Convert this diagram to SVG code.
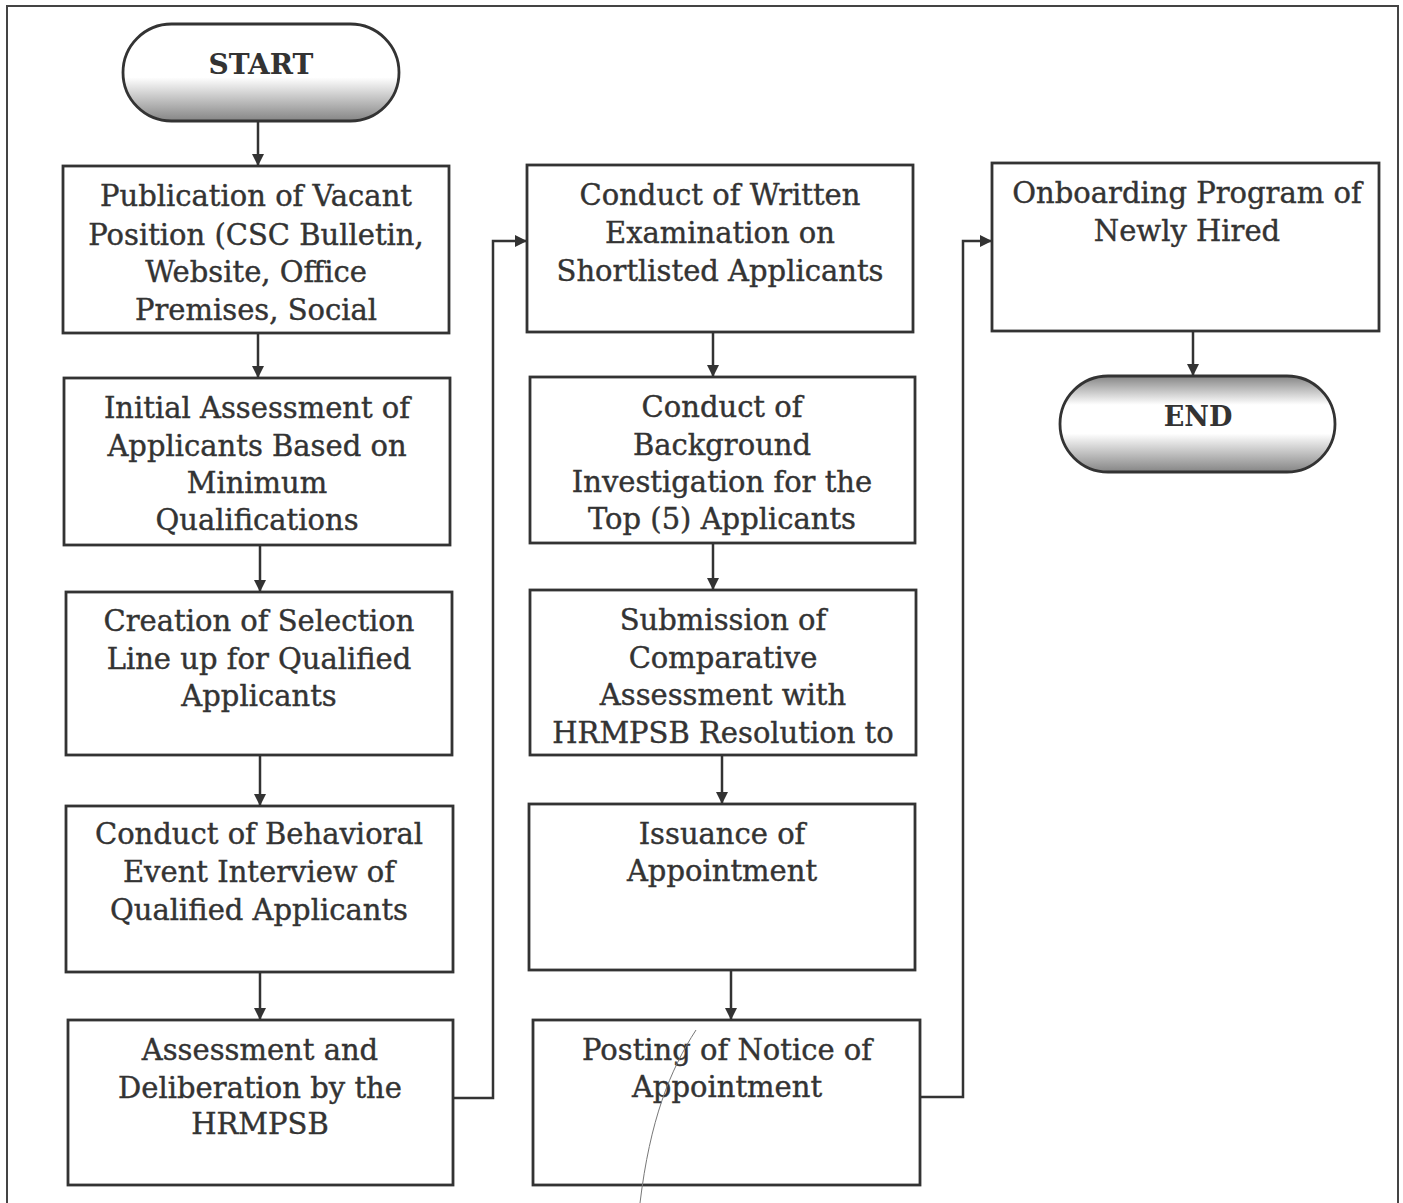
<svg xmlns="http://www.w3.org/2000/svg" width="1403" height="1203" viewBox="0 0 1403 1203">
<defs>
<style>
.box{fill:#fff;stroke:#333;stroke-width:2.8}
.t{font-family:"DejaVu Serif","Liberation Serif",serif;font-size:29px;fill:#333;stroke:#333;stroke-width:0.4;text-anchor:middle}
.tb{font-family:"DejaVu Serif","Liberation Serif",serif;font-weight:bold;fill:#333;text-anchor:middle}
.ln{fill:none;stroke:#333;stroke-width:2.5}
.pill{stroke:#333;stroke-width:2.8}
</style>
<linearGradient id="gStart" x1="0" y1="0" x2="0" y2="1">
<stop offset="0" stop-color="#fff"/>
<stop offset="0.55" stop-color="#fff"/>
<stop offset="1" stop-color="#858585"/>
</linearGradient>
<linearGradient id="gEnd" x1="0" y1="0" x2="0" y2="1">
<stop offset="0" stop-color="#858585"/>
<stop offset="0.3" stop-color="#fff"/>
<stop offset="0.6" stop-color="#fff"/>
<stop offset="1" stop-color="#858585"/>
</linearGradient>
<marker id="arr" viewBox="0 0 10 10" refX="10" refY="5" markerWidth="13" markerHeight="12" markerUnits="userSpaceOnUse" orient="auto">
<path d="M0,0 L10,5 L0,10 z" fill="#333"/>
</marker>
</defs>
<rect x="0" y="0" width="1403" height="1203" fill="#fff"/>
<rect x="7" y="6" width="1391" height="1210" fill="none" stroke="#444" stroke-width="2"/>

<g id="connectors">
<path class="ln" marker-end="url(#arr)" d="M258,121 V166"/>
<path class="ln" marker-end="url(#arr)" d="M258,333 V378"/>
<path class="ln" marker-end="url(#arr)" d="M260,545 V592"/>
<path class="ln" marker-end="url(#arr)" d="M260,755 V806"/>
<path class="ln" marker-end="url(#arr)" d="M260,972 V1020"/>
<path class="ln" marker-end="url(#arr)" d="M453,1098 H493 V241 H527"/>
<path class="ln" marker-end="url(#arr)" d="M713,332 V377"/>
<path class="ln" marker-end="url(#arr)" d="M713,543 V590"/>
<path class="ln" marker-end="url(#arr)" d="M722,755 V804"/>
<path class="ln" marker-end="url(#arr)" d="M731,970 V1020"/>
<path class="ln" marker-end="url(#arr)" d="M920,1097 H963 V241 H992"/>
<path class="ln" marker-end="url(#arr)" d="M1193,331 V376"/>
</g>

<g id="start">
<rect class="pill" x="123" y="24" width="276" height="97" rx="48.5" fill="url(#gStart)"/>
<text class="tb" x="261" y="74" font-size="28">START</text>
</g>

<g id="n1">
<rect class="box" x="63" y="166" width="386" height="167"/>
<text class="t" x="256" y="206">Publication of Vacant</text>
<text class="t" x="256" y="245">Position (CSC Bulletin,</text>
<text class="t" x="256" y="282">Website, Office</text>
<text class="t" x="256" y="320">Premises, Social</text>
</g>

<g id="n2">
<rect class="box" x="64" y="378" width="386" height="167"/>
<text class="t" x="257" y="418">Initial Assessment of</text>
<text class="t" x="257" y="456">Applicants Based on</text>
<text class="t" x="257" y="493">Minimum</text>
<text class="t" x="257" y="530">Qualifications</text>
</g>

<g id="n3">
<rect class="box" x="66" y="592" width="386" height="163"/>
<text class="t" x="259" y="631">Creation of Selection</text>
<text class="t" x="259" y="669">Line up for Qualified</text>
<text class="t" x="259" y="706">Applicants</text>
</g>

<g id="n4">
<rect class="box" x="66" y="806" width="387" height="166"/>
<text class="t" x="259" y="844">Conduct of Behavioral</text>
<text class="t" x="259" y="882">Event Interview of</text>
<text class="t" x="259" y="920">Qualified Applicants</text>
</g>

<g id="n5">
<rect class="box" x="68" y="1020" width="385" height="165"/>
<text class="t" x="260" y="1060">Assessment and</text>
<text class="t" x="260" y="1098">Deliberation by the</text>
<text class="t" x="260" y="1134">HRMPSB</text>
</g>

<g id="n6">
<rect class="box" x="527" y="165" width="386" height="167"/>
<text class="t" x="720" y="205">Conduct of Written</text>
<text class="t" x="720" y="243">Examination on</text>
<text class="t" x="720" y="281">Shortlisted Applicants</text>
</g>

<g id="n7">
<rect class="box" x="530" y="377" width="385" height="166"/>
<text class="t" x="722" y="417">Conduct of</text>
<text class="t" x="722" y="455">Background</text>
<text class="t" x="722" y="492">Investigation for the</text>
<text class="t" x="722" y="529">Top (5) Applicants</text>
</g>

<g id="n8">
<rect class="box" x="530" y="590" width="386" height="165"/>
<text class="t" x="723" y="630">Submission of</text>
<text class="t" x="723" y="668">Comparative</text>
<text class="t" x="723" y="705">Assessment with</text>
<text class="t" x="723" y="743">HRMPSB Resolution to</text>
</g>

<g id="n9">
<rect class="box" x="529" y="804" width="386" height="166"/>
<text class="t" x="722" y="844">Issuance of</text>
<text class="t" x="722" y="881">Appointment</text>
</g>

<g id="n10">
<rect class="box" x="533" y="1020" width="387" height="165"/>
<text class="t" x="727" y="1060">Posting of Notice of</text>
<text class="t" x="727" y="1097">Appointment</text>
</g>

<g id="n11">
<rect class="box" x="992" y="163" width="387" height="168"/>
<text class="t" x="1187" y="203">Onboarding Program of</text>
<text class="t" x="1187" y="241">Newly Hired</text>
</g>

<g id="end">
<rect class="pill" x="1060" y="376" width="275" height="96" rx="48" fill="url(#gEnd)"/>
<text class="tb" x="1198" y="426" font-size="27">END</text>
</g>

<path d="M696,1030 C670,1070 650,1120 640,1203" fill="none" stroke="#777" stroke-width="1"/>
</svg>
